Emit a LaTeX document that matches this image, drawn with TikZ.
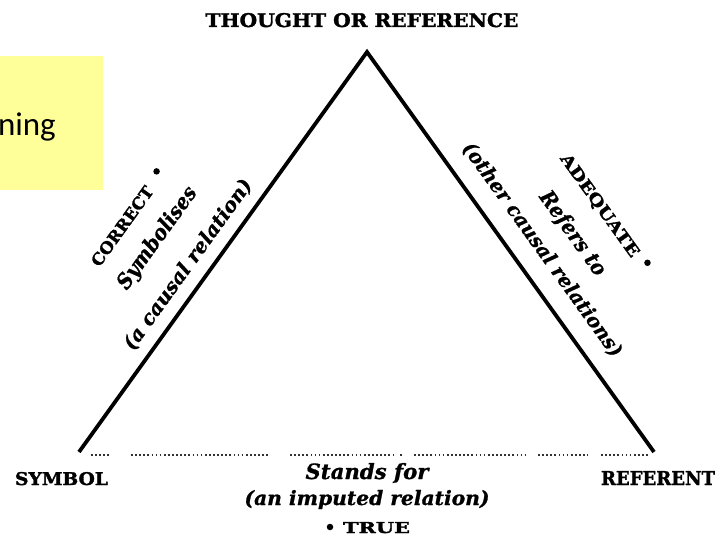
\documentclass[tikz,border=0pt]{standalone}
\usepackage{fontspec}
\setmainfont{DejaVu Serif}
\newfontfamily\boxfont{Carlito}
\newfontfamily\capsfont{DejaVu Serif}[UprightFont={* Bold}, FakeBold=1.6]
\newfontfamily\itfont{DejaVu Serif}[UprightFont={* Bold Italic}, FakeBold=1.0]
\usetikzlibrary{calc}
\newcommand\fitto[3]{\resizebox{#1pt}{#2pt}{#3}}
\tikzset{
 lbl/.style={inner sep=0pt, font=\itfont},
 caps/.style={inner sep=0pt, font=\capsfont},
 edge/.style={line width=3.8pt, line join=miter},
 dotline/.style={line width=1.7pt, dash pattern=on 1.7pt off 2.4pt, black!80},
 bullet/.style={circle, fill=black, inner sep=0pt, minimum size=6.5pt},
}
\begin{document}
\begin{tikzpicture}[x=1pt,y=-1pt]
\useasboundingbox (0,0) rectangle (719,540);
\fill[fill={rgb,255:red,255;green,255;blue,153}] (0,56) rectangle (103,190);
\begin{scope}
\clip (0,56) rectangle (103,190);
\node[anchor=base east, inner sep=0pt, font=\boxfont\fontsize{33}{40}\selectfont] (box) at (56,136) {ning};
\end{scope}
\coordinate (T) at (367,52);
\coordinate (S) at (79,452);
\coordinate (R) at (654,452);
\draw[edge] (S) -- (T) -- (R);
\draw[dotline] (91,455) -- (110,455);
\draw[dotline] (131,455) -- (270,455);
\draw[dotline] (290,455) -- (395,455);
\draw[dotline] (400,455) -- (402,455);
\draw[dotline] (414,455) -- (527,455);
\draw[dotline] (538,455) -- (588,455);
\draw[dotline] (601,455) -- (648,455);
\node[caps, anchor=base] (thought) at (362,27) {\fitto{313}{14}{THOUGHT OR REFERENCE}};
\node[caps, anchor=base] (symbol) at (61.5,485) {\fitto{93}{13}{SYMBOL}};
\node[caps, anchor=base] (referent) at (658,485) {\fitto{114}{14}{REFERENT}};
\node[lbl, anchor=base] (stands) at (367,479) {\fitto{123}{16}{Stands for}};
\node[lbl, anchor=base] (imputed) at (367,505) {\fitto{245}{15}{(an imputed relation)}};
\node[caps, anchor=base] (true) at (376.5,533) {\fitto{67}{11}{TRUE}};
\node[bullet] (truedot) at (330,527) {};
\node[lbl, rotate=54.25] (acausal) at ($(S)!0.438!(T)!21pt!90:(T)$) {\fitto{205}{15}{(a causal relation)}};
\node[lbl, rotate=54.25] (symbolises) at ($(S)!0.445!(T)!61pt!90:(T)$) {\fitto{121}{16}{Symbolises}};
\node[caps, rotate=54.25] (correct) at ($(S)!0.423!(T)!97pt!90:(T)$) {\fitto{94}{12}{CORRECT}};
\node[bullet] (cdot) at ($(S)!0.554!(T)!101pt!90:(T)$) {};
\node[lbl, rotate=-54.3] (other) at ($(T)!0.534!(R)!27pt!90:(R)$) {\fitto{259}{15}{(other causal relations)}};
\node[lbl, rotate=-54.3] (refers) at ($(T)!0.543!(R)!61pt!90:(R)$) {\fitto{99}{16}{Refers to}};
\node[caps, rotate=-54.3] (adequate) at ($(T)!0.529!(R)!99pt!90:(R)$) {\fitto{123}{12}{ADEQUATE}};
\node[bullet] (adot) at ($(T)!0.680!(R)!105pt!90:(R)$) {};
\end{tikzpicture}
\end{document}
